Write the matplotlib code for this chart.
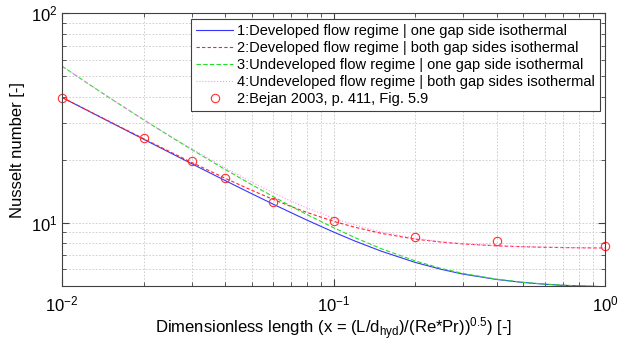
import matplotlib
matplotlib.use("Agg")
import matplotlib.pyplot as plt
from matplotlib.ticker import LogLocator, NullFormatter, LogFormatterSciNotation

plt.rcParams['font.family'] = ['Liberation Sans', 'DejaVu Sans']
plt.rcParams['mathtext.fontset'] = 'custom'
plt.rcParams['mathtext.rm'] = 'Liberation Sans'
plt.rcParams['mathtext.it'] = 'Liberation Sans:italic'

# x values
x = [0.01, 0.012, 0.015, 0.02, 0.025, 0.03, 0.04, 0.05, 0.06, 0.07, 0.08, 0.1,
     0.12, 0.15, 0.2, 0.25, 0.3, 0.4, 0.5, 0.6, 0.7, 0.8, 1.0]
nu_dev_one = [39.69, 35.16, 30.31, 25.05, 21.62, 19.17, 15.89, 13.77, 12.27, 11.16,
              10.29, 9.04, 8.18, 7.32, 6.47, 5.99, 5.69, 5.36, 5.19, 5.09, 5.03, 5.00, 4.95]
nu_dev_both = [39.75, 35.24, 30.42, 25.21, 21.84, 19.45, 16.30, 14.30, 12.93, 11.94,
               11.20, 10.17, 9.52, 8.91, 8.36, 8.09, 7.93, 7.76, 7.69, 7.64, 7.62, 7.60, 7.58]
nu_undev_one = [56.00, 47.75, 39.44, 31.02, 25.88, 22.40, 17.95, 15.21, 13.34, 11.98,
                10.94, 9.48, 8.50, 7.52, 6.58, 6.05, 5.73, 5.38, 5.20, 5.10, 5.04, 5.00, 4.95]
nu_undev_both = [56.03, 47.80, 39.51, 31.13, 26.04, 22.61, 18.27, 15.65, 13.90, 12.67,
                 11.76, 10.53, 9.75, 9.04, 8.43, 8.12, 7.95, 7.77, 7.69, 7.65, 7.62, 7.60, 7.58]

# Bejan 2003 reference points
x_bejan = [0.01, 0.02, 0.03, 0.04, 0.06, 0.1, 0.2, 0.4, 1.0]
nu_bejan = [39.6, 25.4, 19.7, 16.3, 12.6, 10.15, 8.54, 8.17, 7.72]

labels = ["1:Developed flow regime | one gap side isothermal",
          "2:Developed flow regime | both gap sides isothermal",
          "3:Undeveloped flow regime | one gap side isothermal",
          "4:Undeveloped flow regime | both gap sides isothermal",
          "2:Bejan 2003, p. 411, Fig. 5.9"]

fig = plt.figure(figsize=(6.34, 3.44), dpi=100)
ax = fig.add_axes([0.0978, 0.169, 0.8565, 0.792])

ax.plot(x, nu_dev_one, '-', color='#3535ff', lw=0.8, label=labels[0])
ax.plot(x, nu_dev_both, '--', color='#ff2525', lw=0.8, dashes=(3, 2), label=labels[1])
ax.plot(x, nu_undev_one, '--', color='#25dd25', lw=0.8, dashes=(4, 2), label=labels[2])
ax.plot(x, nu_undev_both, ':', color='#ff90ff', lw=0.8, label=labels[3])
ax.plot(x_bejan, nu_bejan, 'o', mfc='none', mec='#ff3030', ms=6, mew=0.8,
        label=labels[4], clip_on=False)

ax.set_xscale('log')
ax.set_yscale('log')
ax.set_xlim(0.01, 1.0)
ax.set_ylim(5, 100)

for axis in (ax.xaxis, ax.yaxis):
    axis.set_major_locator(LogLocator(base=10))
    axis.set_minor_locator(LogLocator(base=10, subs=range(2, 10)))
    axis.set_major_formatter(LogFormatterSciNotation())
    axis.set_minor_formatter(NullFormatter())

ax.grid(True, which='both', color='#c8c8c8', linestyle=(0, (2, 2)), linewidth=0.6)
ax.tick_params(which='both', direction='in', top=True, right=True, labelsize=12,
               color='#404040')
ax.tick_params(which='major', length=5)
ax.tick_params(which='minor', length=3)
ax.tick_params(axis='x', pad=6)
for s in ax.spines.values():
    s.set_color('#404040')
    s.set_linewidth(0.8)

ax.set_xlabel(r"Dimensionless length (x = (L/d$_{\mathrm{hyd}}$)/(Re*Pr))$^{0.5}$) [-]",
              fontsize=12, labelpad=1)
ax.set_ylabel("Nusselt number [-]", fontsize=12)

leg = ax.legend(loc='upper right', bbox_to_anchor=(0.991, 0.979), fontsize=10.5,
                fancybox=False, framealpha=1, edgecolor='#404040',
                borderpad=0.35, labelspacing=0.2, handlelength=2.5,
                handletextpad=0.3, borderaxespad=0)
leg.get_frame().set_linewidth(0.8)

fig.savefig('out.png', dpi=100)
